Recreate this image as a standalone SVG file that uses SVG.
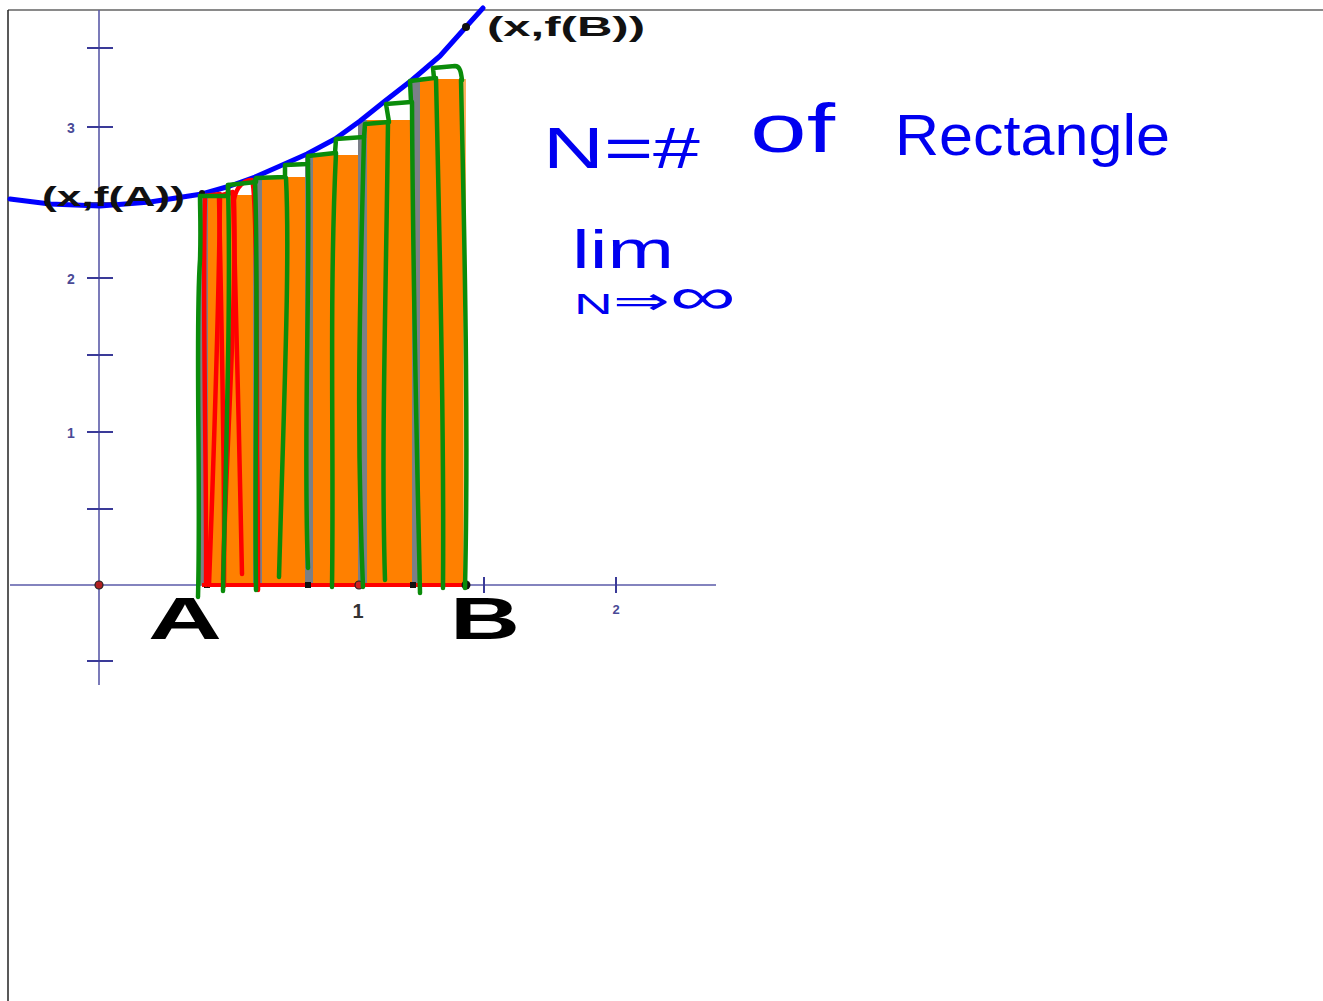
<svg xmlns="http://www.w3.org/2000/svg" width="1323" height="1001" viewBox="0 0 1323 1001">
<style>
.axis{stroke:#5a5aa8;stroke-width:1.6;fill:none}
.tick{stroke:#3a3a98;stroke-width:2;fill:none}
.albl{font-family:"Liberation Sans",Arial,sans-serif;font-weight:bold;fill:#4a4a96}
.pt{font-family:"Liberation Sans",Arial,sans-serif;font-weight:bold;fill:#111}
.big{font-family:"Liberation Sans",Arial,sans-serif;font-weight:bold;fill:#000}
.gray{fill:#7b7f88}
.org{fill:#ff8000}
.grn{stroke:#0a8c0a;stroke-width:4.5;fill:none;stroke-linecap:round;stroke-linejoin:round}
.red{stroke:#ff0000;stroke-width:4.5;fill:none;stroke-linecap:round;stroke-linejoin:round}
.hand{font-family:"Liberation Sans",Arial,sans-serif;fill:#0000f0}
</style>
<rect x="0" y="0" width="1323" height="1001" fill="#ffffff"/>
<g id="frame">
<line x1="8" y1="10" x2="1323" y2="10" stroke="#8a8a8a" stroke-width="2"/>
<line x1="8" y1="10" x2="8" y2="1001" stroke="#222" stroke-width="1.5"/>
</g>
<g id="axes">
<line class="axis" x1="10" y1="585" x2="716" y2="585"/>
<line class="axis" x1="99" y1="10" x2="99" y2="685"/>
<path class="tick" d="M87,48H113M87,127H113M87,203H113M87,278H113M87,355H113M87,432H113M87,509H113M87,661H113M484,577V593M616,577V593"/>
<text class="albl" x="71" y="133" font-size="14" text-anchor="middle">3</text>
<text class="albl" x="71" y="284" font-size="14" text-anchor="middle">2</text>
<text class="albl" x="71" y="438" font-size="14" text-anchor="middle">1</text>
<text x="358" y="618" font-size="20" text-anchor="middle" font-family="Liberation Sans,Arial,sans-serif" font-weight="bold" fill="#333">1</text>
<text class="albl" x="616" y="614" font-size="13" text-anchor="middle">2</text>
</g>
<g id="rectangles">
<rect class="gray" x="200" y="195" width="9" height="390"/>
<rect class="org" x="208" y="195" width="45" height="390"/>
<rect class="gray" x="253" y="177" width="9" height="408"/>
<rect class="org" x="262" y="177" width="43" height="408"/>
<rect class="gray" x="305" y="155" width="8" height="430"/>
<rect class="org" x="313" y="155" width="45" height="430"/>
<rect class="gray" x="358" y="120" width="9" height="465"/>
<rect class="org" x="367" y="120" width="45" height="465"/>
<rect class="gray" x="412" y="79" width="8" height="506"/>
<rect class="org" x="420" y="79" width="43" height="506"/>
<rect x="463" y="79" width="3" height="506" fill="#ffb060"/>
</g>
<g id="baseline">
<line x1="202" y1="585" x2="465" y2="585" stroke="#ff0000" stroke-width="4"/>
<rect x="204" y="582" width="6" height="6" fill="#111"/>
<rect x="305" y="582" width="6" height="6" fill="#111"/>
<rect x="410" y="582" width="6" height="6" fill="#111"/>
<circle cx="99" cy="585" r="4" fill="#b02020" stroke="#222" stroke-width="1.2"/>
<circle cx="359" cy="585" r="4" fill="#d02020" stroke="#222" stroke-width="1.2"/>
<circle cx="466" cy="585" r="4.5" fill="#111"/>
</g>
<g id="curve">
<polyline points="10,199 50,204 100,206 150,202 202,194 230,186 255,177 280,166 307,154 335,139 360,121 385,101 412,80 440,56 465,28 483,8" fill="none" stroke="#0000ff" stroke-width="5" stroke-linejoin="round" stroke-linecap="round"/>
<circle cx="202" cy="193" r="3" fill="#111"/>
<circle cx="466" cy="27" r="4" fill="#111"/>
</g>
<g id="red-strokes">
<path class="red" d="M206,585 C207,480 202,300 205,196 L220,194 C219,300 214,450 209,585"/>
<path class="red" d="M224,586 C225,470 221,300 219,196 L233,192 C235,300 240,450 242,574"/>
<path class="red" d="M223,580 C226,450 237,300 234,200 C236,186 245,180 252,180 C256,190 257,300 257,450 C258,520 258,570 258,590"/>
</g>
<g id="green-strokes">
<path class="grn" d="M200,196 L228,196 L228,185 L256,182 L256,178 L285,177 L285,165 L308,164 L308,156 L335,153 L336,139 L364,137 L365,124 L389,122 L386,104 L411,102 L410,81 L434,78 L433,68 L455,66 C460,66 461,72 462,80"/>
<path class="grn" d="M198,597 C201,480 195,330 200,260 C201,230 200,210 200,196"/>
<path class="grn" d="M228,185 C231,300 226,450 223,591"/>
<path class="grn" d="M255,180 C259,300 254,450 256,590"/>
<path class="grn" d="M286,178 C290,260 284,400 279,577"/>
<path class="grn" d="M308,164 C310,300 303,450 308,568"/>
<path class="grn" d="M336,153 C329,300 334,450 332,587"/>
<path class="grn" d="M364,137 C360,300 356,420 363,587"/>
<path class="grn" d="M388,122 C386,300 381,450 385,580"/>
<path class="grn" d="M412,102 C413,300 417,450 420,593"/>
<path class="grn" d="M436,78 C441,300 444,450 443,588"/>
<path class="grn" d="M461,80 C466,300 468,450 465,588"/>
</g>
<g id="point-labels">
<text class="pt" x="42" y="206" font-size="28" textLength="143" lengthAdjust="spacingAndGlyphs">(x,f(A))</text>
<text class="pt" x="487" y="36" font-size="28" textLength="158" lengthAdjust="spacingAndGlyphs" fill="#222">(x,f(B))</text>
<text class="big" x="148" y="639" font-size="60" textLength="74" lengthAdjust="spacingAndGlyphs">A</text>
<text class="big" x="450" y="639" font-size="60" textLength="70" lengthAdjust="spacingAndGlyphs">B</text>
</g>
<g id="notes">
<text class="hand" font-size="58"><tspan x="543" y="168" textLength="157" lengthAdjust="spacingAndGlyphs">N=#</tspan> <tspan x="750" y="152" font-size="68" textLength="85" lengthAdjust="spacingAndGlyphs">of</tspan> <tspan x="895" y="155" textLength="275" lengthAdjust="spacingAndGlyphs">Rectangle</tspan></text>
<text class="hand" x="572" y="268" font-size="54" textLength="102" lengthAdjust="spacingAndGlyphs">lim</text>
<text class="hand" x="574" y="314" textLength="162" lengthAdjust="spacingAndGlyphs"><tspan font-size="30">N</tspan><tspan font-size="38">⇒</tspan><tspan font-size="52">∞</tspan></text>
</g>
</svg>
